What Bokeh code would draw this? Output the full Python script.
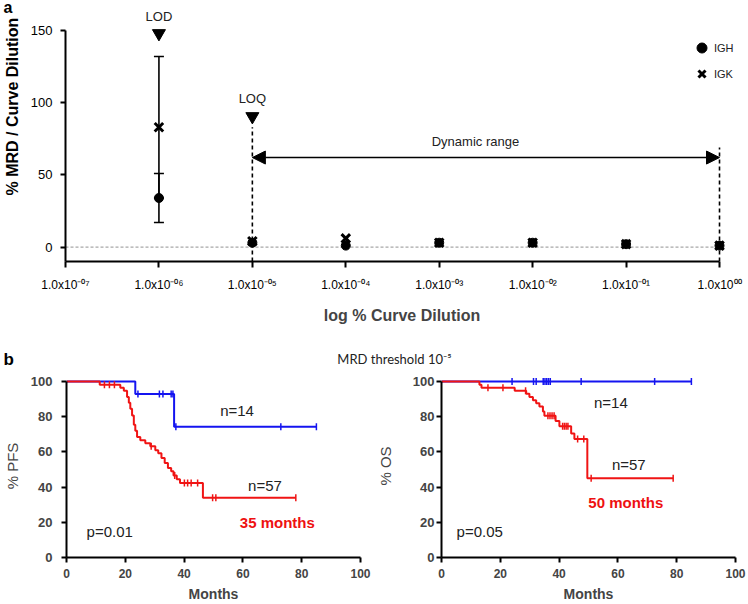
import numpy as np
from bokeh.plotting import figure
from bokeh.models import (FixedTicker, Whisker, TeeHead, Arrow, NormalHead,
                          ColumnDataSource, Legend, LegendItem, Range1d)
from bokeh.layouts import column, row
from bokeh.embed import file_html
from bokeh.resources import INLINE
from bokeh.core.properties import value

FONT = "Liberation Sans"

# ---------------- Panel a data ----------------
dilution = [1e-6, 1e-5, 1e-4, 1e-3, 1e-2, 1e-1, 1e0]
igh_mean = [34, 3, 1, 3, 3, 2, 1]
igh_sd = [17, 0, 0, 0, 0, 0, 0]
igk_mean = [83, 4, 6, 3, 3, 2, 1]
igk_sd = [49, 0, 0, 0, 0, 0, 0]
x_ticks_a = [1e-7, 1e-6, 1e-5, 1e-4, 1e-3, 1e-2, 1e-1, 1e0]
x_tick_labels_a = ["1.0x10⁻⁰⁷", "1.0x10⁻⁰⁶", "1.0x10⁻⁰⁵", "1.0x10⁻⁰⁴",
                   "1.0x10⁻⁰³", "1.0x10⁻⁰²", "1.0x10⁻⁰¹", "1.0x10⁰⁰"]
y_ticks_a = [0, 50, 100, 150]
marker_x = [1e-6, 1e-5]          # LOD, LOQ
marker_y = [148, 90.5]
marker_text = ["LOD", "LOQ"]
marker_text_y = [159.7, 103]
limit_lines_x = [1e-5, 1e0]      # LOQ line, upper end of dynamic range
limit_lines_top = [83, 69]
range_y = 62
range_label_x = 2.44e-3
range_label_y = 73

# ---------------- Panel b data ----------------
month_ticks = [0, 20, 40, 60, 80, 100]
pct_ticks = [0, 20, 40, 60, 80, 100]

pfs_blue_t = [0, 23.4, 36.6]
pfs_blue_s = [100, 92.9, 74.3]
pfs_blue_end = 85
pfs_blue_cens = [24.3, 31.6, 32.8, 35.6, 36.2, 37.2, 72.9, 85]

pfs_red_t = [0, 11.3, 18.3, 19.5, 20.6, 21.2, 21.7, 22.3, 22.9, 23.4, 24.0, 25.1,
             26.8, 28.5, 30.2, 31.2, 32.3, 33.4, 34.5, 35.6, 36.4, 37.5, 38.6, 46.4]
pfs_red_s = [100, 98.2, 96.5, 94.7, 91.2, 88.0, 84.5, 80.7, 75.4, 72.0, 68.5, 66.7,
             65.0, 63.2, 61.0, 59.3, 56.5, 53.7, 50.9, 49.0, 46.6, 44.5, 42.3, 34.0]
pfs_red_end = 78
pfs_red_cens = [12.9, 14.6, 16.3, 28.8, 36.8, 40.1, 41.2, 42.4, 44.6, 49.7, 50.8, 78]

os_blue_t = [0]
os_blue_s = [100]
os_blue_end = 85
os_blue_cens = [24, 31.3, 32.2, 34.6, 35.2, 35.8, 36.4, 37.0, 47.5, 72.5, 85]

os_red_t = [0, 12.9, 13.6, 24.9, 28.8, 29.9, 31.1, 32.2, 33.3, 34.5, 35.0, 38.8,
            40.1, 44.1, 45.2, 49.6]
os_red_s = [100, 98.2, 96.5, 94.7, 93.0, 91.2, 89.4, 87.6, 85.8, 83.0, 80.5, 77.6,
            74.6, 70.5, 67.4, 45.0]
os_red_end = 78.8
os_red_cens = [15.8, 20.9, 28.6, 36.2, 36.9, 37.6, 38.3, 41.2, 41.8, 42.4, 43.0,
               46.3, 48.4, 50.9, 78.8]

pfs_notes = [("n=14", 58, 83.5, "#222222", "normal"), ("n=57", 67.5, 41, "#222222", "normal"),
             ("35 months", 71.7, 20, "#ee1111", "bold"), ("p=0.01", 14.7, 15, "#222222", "normal")]
os_notes = [("n=14", 57.6, 88.2, "#222222", "normal"), ("n=57", 63.7, 53, "#222222", "normal"),
            ("50 months", 62.7, 31.3, "#ee1111", "bold"), ("p=0.05", 13, 15, "#222222", "normal")]

BLUE = "#1414f0"
RED = "#f01414"


def text_strip(width, height):
    s = figure(width=width, height=height, x_range=Range1d(0, width),
               y_range=Range1d(0, height), output_backend="svg", toolbar_location=None,
               min_border_left=0, min_border_right=0, min_border_top=0,
               min_border_bottom=0, x_axis_location=None, y_axis_location=None)
    s.outline_line_color = None
    s.grid.visible = False
    return s


# ================= left strip of panel a ("a" + y title) =================
sa = text_strip(26, 326)
sa.text(x=[3], y=[317], text=["a"], text_align="left", text_baseline="middle",
        text_font=value(FONT), text_font_style="bold", text_font_size="16px")
sa.text(x=[12], y=[193.5], text=["% MRD / Curve Dilution"], angle=np.pi / 2,
        text_align="center", text_baseline="middle", text_font=value(FONT),
        text_font_style="bold", text_font_size="16px")

# ================= Panel a =================
PA_W, PA_L, PA_R = 722, 39, 10
px_per_decade = 93.43
x_end_a = 10 ** ((PA_W - PA_L - PA_R) / px_per_decade - 7)
pa = figure(width=PA_W, height=326, x_axis_type="log",
            x_range=Range1d(1e-7, x_end_a), y_range=Range1d(-10, 170.78),
            output_backend="svg", toolbar_location=None,
            min_border_left=PA_L, min_border_right=PA_R, min_border_top=0,
            min_border_bottom=65)
pa.outline_line_color = None
pa.grid.visible = False
pa.background_fill_color = "white"

for ax in (pa.xaxis[0], pa.yaxis[0]):
    ax.axis_line_width = 2
    ax.major_tick_line_width = 2
    ax.minor_tick_line_color = None
    ax.major_tick_in = 0
    ax.major_label_text_font = FONT
    ax.axis_label_text_font = FONT
    ax.axis_label_text_font_style = "bold"
    ax.axis_label_text_font_size = "16px"
    ax.major_label_text_color = "black"

pa.xaxis.ticker = FixedTicker(ticks=x_ticks_a)
pa.xaxis.major_label_overrides = {t: l for t, l in zip(x_ticks_a, x_tick_labels_a)}
pa.xaxis.bounds = (x_ticks_a[0], x_ticks_a[-1])
pa.xaxis.major_tick_out = 6
pa.xaxis.major_label_standoff = 10
pa.xaxis.major_label_text_font_size = "12px"
pa.xaxis.axis_label = "log % Curve Dilution"
pa.xaxis.axis_label_standoff = 12

pa.yaxis.ticker = FixedTicker(ticks=y_ticks_a)
pa.yaxis.bounds = (-10, 150)
pa.yaxis.major_tick_out = 5
pa.yaxis.major_label_standoff = 8
pa.yaxis.major_label_text_font_size = "13px"

# zero reference line
pa.segment(x0=[x_ticks_a[0]], y0=[0], x1=[x_ticks_a[-1]], y1=[0],
           line_color="#a8a8a8", line_width=1.2, line_dash="3 2")

# LOQ / upper limit dashed lines
pa.segment(x0=limit_lines_x, y0=[-10, -10], x1=limit_lines_x, y1=limit_lines_top,
           line_color="black", line_width=1.6, line_dash="4 3")

# Dynamic range arrow
pa.add_layout(Arrow(start=NormalHead(size=13, fill_color="black", line_color="black"),
                    end=NormalHead(size=13, fill_color="black", line_color="black"),
                    x_start=limit_lines_x[0], y_start=range_y,
                    x_end=limit_lines_x[1], y_end=range_y,
                    line_width=1.6, line_color="black"))
pa.text(x=[range_label_x], y=[range_label_y], text=["Dynamic range"],
        text_align="center", text_baseline="middle", text_font=value(FONT),
        text_font_size="13px", text_color="#222222")

# error bars
eb_x, eb_up, eb_lo = [], [], []
for xs, m, s in ((dilution, igh_mean, igh_sd), (dilution, igk_mean, igk_sd)):
    for xx, mm, ss in zip(xs, m, s):
        if ss > 0:
            eb_x.append(xx)
            eb_up.append(mm + ss)
            eb_lo.append(mm - ss)
eb_src = ColumnDataSource(dict(x=eb_x, upper=eb_up, lower=eb_lo))
pa.add_layout(Whisker(source=eb_src, base="x", upper="upper", lower="lower",
                      dimension="height", line_width=1.6, line_color="black",
                      upper_head=TeeHead(size=10, line_width=1.6, line_color="black"),
                      lower_head=TeeHead(size=10, line_width=1.6, line_color="black")))

r_igh = pa.scatter(dilution, igh_mean, marker="circle", size=9,
                   fill_color="black", line_color="black")
r_igk = pa.scatter(dilution, igk_mean, marker="x", size=12,
                   line_color="black", line_width=3)

# LOD / LOQ markers
pa.scatter(marker_x, marker_y, marker="inverted_triangle", size=13,
           fill_color="black", line_color="black")
pa.text(x=marker_x, y=marker_text_y, text=marker_text, text_align="center",
        text_baseline="middle", text_font=value(FONT), text_font_size="13px",
        text_color="#222222")

leg = Legend(items=[LegendItem(label="IGH", renderers=[r_igh]),
                    LegendItem(label="IGK", renderers=[r_igk])],
             location=(624, 175), orientation="vertical",
             glyph_width=25, glyph_height=25, label_height=25, label_standoff=0,
             spacing=1, padding=0, margin=0, border_line_color=None,
             background_fill_alpha=0, label_text_font=FONT,
             label_text_font_size="11px", label_text_color="#222222")
pa.add_layout(leg)

# ================= strip with "b" and threshold =================
ps = text_strip(748, 42)
ps.text(x=[3], y=[9], text=["b"], text_align="left", text_baseline="middle",
        text_font=value(FONT), text_font_style="bold", text_font_size="17px")
ps.text(x=[394], y=[10], text=["MRD threshold 10⁻⁵"], text_align="center",
        text_baseline="middle", text_font=value("Lato"), text_font_size="13px",
        text_color="#222222")


# ================= Panel b =================
def level_at(t, s, c):
    idx = np.searchsorted(np.array(t), np.array(c), side="right") - 1
    return [s[i] for i in idx]


def km_figure(width, mbl, mbr, ylabel, ylab_standoff, ytick_standoff, curves, notes):
    p = figure(width=width, height=236, x_range=Range1d(0, 100), y_range=Range1d(0, 104),
               output_backend="svg", toolbar_location=None,
               min_border_left=mbl, min_border_right=mbr, min_border_top=6,
               min_border_bottom=47)
    p.outline_line_color = None
    p.grid.visible = False
    for ax in (p.xaxis[0], p.yaxis[0]):
        ax.axis_line_width = 2
        ax.major_tick_line_width = 2
        ax.minor_tick_line_color = None
        ax.major_tick_in = 0
        ax.major_tick_out = 5
        ax.major_label_text_font = FONT
        ax.major_label_text_font_style = "bold"
        ax.axis_label_text_font = FONT
    p.xaxis.ticker = FixedTicker(ticks=month_ticks)
    p.yaxis.ticker = FixedTicker(ticks=pct_ticks)
    p.xaxis.bounds = (0, 100)
    p.yaxis.bounds = (0, 100)
    p.xaxis.major_label_text_font_size = "12px"
    p.yaxis.major_label_text_font_size = "13px"
    p.xaxis.major_label_standoff = 6
    p.xaxis.axis_label = "Months"
    p.xaxis.axis_label_text_font_style = "bold"
    p.xaxis.axis_label_text_font_size = "14px"
    p.xaxis.axis_label_standoff = 5
    p.yaxis.major_label_standoff = ytick_standoff
    p.yaxis.axis_label = ylabel
    p.yaxis.axis_label_text_font_style = "normal"
    p.yaxis.axis_label_text_font_size = "15px"
    p.yaxis.axis_label_standoff = ylab_standoff

    for t, s, end, cens, color in curves:
        p.step(x=list(t) + [end], y=list(s) + [s[-1]], mode="after",
               line_color=color, line_width=2)
        p.scatter(cens, level_at(t, s, cens), marker="dash", angle=np.pi / 2,
                  size=7, line_color=color, line_width=1.5)
    for txt, x, y, col, style in notes:
        p.text(x=[x], y=[y], text=[txt], text_align="center", text_baseline="middle",
               text_font=value(FONT), text_font_size="15px", text_font_style=style,
               text_color=col)
    return p


pb1 = km_figure(373, 65, 13, "% PFS", 7, 9,
                [(pfs_blue_t, pfs_blue_s, pfs_blue_end, pfs_blue_cens, BLUE),
                 (pfs_red_t, pfs_red_s, pfs_red_end, pfs_red_cens, RED)], pfs_notes)
pb2 = km_figure(375, 67, 13, "% OS", 16, 2,
                [(os_blue_t, os_blue_s, os_blue_end, os_blue_cens, BLUE),
                 (os_red_t, os_red_s, os_red_end, os_red_cens, RED)], os_notes)

layout = column(row(sa, pa), row(ps), row(pb1, pb2))
open("out.html", "w").write(file_html(layout, INLINE))
